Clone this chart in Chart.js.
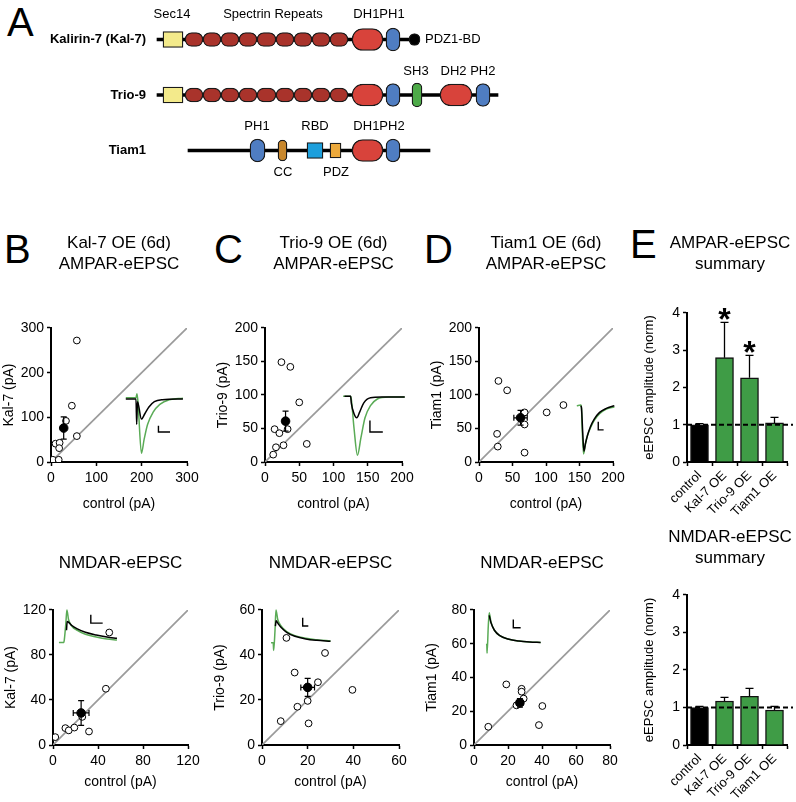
<!DOCTYPE html>
<html>
<head>
<meta charset="utf-8">
<script src="https://cdn.jsdelivr.net/npm/chart.js@4.4.1/dist/chart.umd.min.js"></script>
<style>
  body { margin: 0; background: #fff; }
  #fig { position: relative; width: 796px; height: 802px; overflow: hidden; font-family: "Liberation Sans", Arial, sans-serif; }
  #fig canvas { position: absolute; }
  .letter { position: absolute; font-size: 40px; line-height: 40px; color: #000; }
</style>
</head>
<body>
<div id="fig">
  <div class="letter" style="left:7px;top:2px">A</div>
  <div class="letter" style="left:4px;top:229px">B</div>
  <div class="letter" style="left:214px;top:229px">C</div>
  <div class="letter" style="left:424px;top:229px">D</div>
  <div class="letter" style="left:630px;top:224px">E</div>

  <canvas id="domains" width="560" height="190" style="left:0;top:0"></canvas>
  <canvas id="kalAmpa" width="208" height="292" style="left:1px;top:225px"></canvas>
  <canvas id="trioAmpa" width="209" height="292" style="left:215px;top:225px"></canvas>
  <canvas id="tiamAmpa" width="206" height="292" style="left:429px;top:225px"></canvas>
  <canvas id="ampaSum" width="186" height="295" style="left:637px;top:225px"></canvas>
  <canvas id="kalNmda" width="207" height="246" style="left:3px;top:545px"></canvas>
  <canvas id="trioNmda" width="209" height="246" style="left:212px;top:545px"></canvas>
  <canvas id="tiamNmda" width="208" height="246" style="left:424px;top:545px"></canvas>
  <canvas id="nmdaSum" width="186" height="281" style="left:637px;top:519px"></canvas>
</div>

<script>
// ---------- A: domain maps, [row, start, end] along the drawn protein ----------
const proteins = ['Kalirin-7 (Kal-7)', 'Trio-9', 'Tiam1'];
const backboneDom = [[0, 157, 415], [1, 157, 498], [2, 188, 430]];
const sec14Dom = [[0, 163, 183], [1, 163, 183]];
const spectrinEdges = [185, 203, 221, 239, 257, 276, 294, 312, 330, 348];
const dhDom = [[0, 352, 383], [1, 352, 383], [1, 440, 472], [2, 352, 383]];
const phDom = [[0, 386, 400], [1, 386, 400], [1, 476, 490], [2, 250, 265], [2, 386, 400]];
const sh3Dom = [[1, 412, 422]];
const ccDom = [[2, 278, 287]];
const rbdDom = [[2, 307, 323]];
const pdzDom = [[2, 330, 341]];
const pdzBindDom = [[0, 409, 420]];
const domainLabels = [
  ['Sec14', 0, 172, 'above'], ['Spectrin Repeats', 0, 273, 'above'], ['DH1PH1', 0, 379, 'above'],
  ['PDZ1-BD', 0, 425, 'right'],
  ['SH3', 1, 416, 'above'], ['DH2 PH2', 1, 468, 'above'],
  ['PH1', 2, 257, 'above'], ['RBD', 2, 315, 'above'], ['DH1PH2', 2, 379, 'above'],
  ['CC', 2, 283, 'below'], ['PDZ', 2, 336, 'below']
];

// ---------- B-D: per-cell amplitudes (pA), mean and sem ----------
const kalAmpaCtrl = [57, 46, 33, 57, 10, 19, 18, 4, 17];
const kalAmpaOE = [272, 126, 92, 58, 41, 43, 31, 5, 5];
const kalAmpaMean = [28, 76];
const kalAmpaSem = [3, 25];

const trioAmpaCtrl = [24, 37, 50, 14, 21, 33, 16, 27, 61, 12];
const trioAmpaOE = [149, 142, 89, 49, 43, 49, 22, 25, 27, 11];
const trioAmpaMean = [30, 61];
const trioAmpaSem = [4, 15];

const tiamAmpaCtrl = [29, 42, 101, 126, 68, 68, 27, 28, 68];
const tiamAmpaOE = [121, 107, 74, 85, 74, 56, 42, 23, 14];
const tiamAmpaMean = [62, 66];
const tiamAmpaSem = [10, 11];

const kalNmdaCtrl = [2, 11, 14, 19, 26, 32, 47, 50];
const kalNmdaOE = [7, 15, 13, 15.5, 25, 12, 50, 100];
const kalNmdaMean = [25, 28.5];
const kalNmdaSem = [7, 11];

const trioNmdaCtrl = [10.7, 27.6, 14.3, 24.5, 39.6, 15.5, 20, 8.2, 20.4];
const trioNmdaOE = [47.6, 40.9, 32.2, 27.9, 24.5, 17, 19.6, 10.6, 9.6];
const trioNmdaMean = [20, 25.6];
const trioNmdaSem = [3, 4];

const tiamNmdaCtrl = [8.4, 19, 28, 28, 29.2, 25, 40.2, 38.2];
const tiamNmdaOE = [10.8, 35.9, 33.3, 31.6, 27.5, 23.5, 23.1, 11.8];
const tiamNmdaMean = [27, 25];
const tiamNmdaSem = [2, 2.5];

// example traces ([% of plot width, % of plot height])
const kalAmpaBlack = [[55, 47], [62.5, 47], [63, 28], [63.6, 45], [66.5, 32], [69, 36], [72, 41], [76, 45], [82, 46.5], [97, 47]];
const kalAmpaGreen = [[55, 48], [62.5, 48], [63.2, 51], [64, 44], [66.5, 6.5], [68.5, 17], [71, 28], [75, 37], [80, 43], [87, 46.5], [97, 47.5]];
const kalAmpaBar = [[79, 27], [79, 22.4], [87.5, 22.4]];

const trioAmpaBlack = [[58, 49], [62.5, 49], [63, 44], [65, 36], [67, 33], [69, 37], [72, 44], [77, 48], [85, 48.5], [102, 48.5]];
const trioAmpaGreen = [[57, 49], [62.5, 49], [63, 47], [65, 25], [67.5, 5], [70, 18], [73, 33], [77, 42], [82, 47], [90, 48.5], [102, 48.5]];
const trioAmpaBar = [[76.6, 31], [76.6, 22.4], [86, 22.4]];

const tiamAmpaBlack = [[76, 42], [76.5, 40], [77.5, 20], [78.3, 8], [79.5, 14], [81, 20], [83, 26], [86, 32], [90, 37], [95, 40], [101, 42]];
const tiamAmpaGreen = [[73, 42], [76, 42.5], [76.5, 40], [77, 25], [78, 6], [79.5, 14], [81, 20], [83, 25], [86, 31], [90, 36], [95, 39.5], [101, 41]];
const tiamAmpaBar = [[89, 30], [89, 24], [93, 24]];

const kalNmdaBlack = [[10, 85], [10.5, 91.5], [12, 90.5], [14, 88.5], [18, 86], [24, 83.5], [32, 81.5], [40, 80], [47.4, 79]];
const kalNmdaGreen = [[4.4, 75.9], [8, 75.9], [8.5, 79], [9.5, 90], [10.3, 100], [11.5, 93], [14, 88], [18, 85], [24, 82], [32, 80], [40, 78.5], [47.4, 77.8]];
const kalNmdaBar = [[28, 96.5], [28, 90.3], [36.8, 90.3]];

const trioNmdaBlack = [[9.8, 88], [10.3, 92], [12, 89.5], [14, 87], [18, 83.5], [24, 80.5], [32, 78.5], [40, 77.5], [50, 76.8]];
const trioNmdaGreen = [[6.6, 75.8], [8.2, 75.8], [8.5, 70], [9.5, 85], [10.2, 100], [11.5, 93], [14, 88], [18, 84], [24, 81], [32, 79], [40, 78], [50, 77]];
const trioNmdaBar = [[29.7, 94.3], [29.7, 88.1], [33.8, 88.1]];

const tiamNmdaBlack = [[11.2, 96], [12.5, 90.5], [15, 85], [19, 81], [25, 78.5], [33, 77], [41, 76.3], [49, 76]];
const tiamNmdaGreen = [[8.8, 74.5], [9.4, 74.5], [9.6, 68], [10.5, 88], [11.2, 98], [12.5, 91], [15, 85], [19, 81], [25, 78.5], [33, 77], [41, 76.3], [49, 76]];
const tiamNmdaBar = [[28.9, 92.9], [28.9, 86.8], [34.3, 86.8]];

// ---------- E: normalised summary ----------
const summaryGroups = ['control', 'Kal-7 OE', 'Trio-9 OE', 'Tiam1 OE'];
const ampaNorm = [1.0, 2.8, 2.26, 1.05];
const ampaNormErr = [0.03, 0.95, 0.6, 0.15];
const ampaStars = ['', '*', '*', ''];
const nmdaNorm = [1.0, 1.17, 1.3, 0.93];
const nmdaNormErr = [0.03, 0.1, 0.21, 0.1];
const nmdaStars = ['', '', '', ''];

Chart.defaults.font.family = '"Liberation Sans", Arial, Helvetica, sans-serif';
Chart.defaults.font.size = 14;
Chart.defaults.color = '#000';
Chart.defaults.animation = false;
Chart.defaults.plugins.legend.display = false;
Chart.defaults.plugins.tooltip.enabled = false;

const FONT = '"Liberation Sans", Arial, Helvetica, sans-serif';

// ---- panel A ----
function domBars(list) {
  return list.map(([r, s, e]) => ({ y: proteins[r], x: [s, e] }));
}
const spectrinDom = [];
[0, 1].forEach(r => {
  for (let i = 0; i < spectrinEdges.length - 1; i++) spectrinDom.push([r, spectrinEdges[i], spectrinEdges[i + 1]]);
});

const domainLabelPlugin = {
  id: 'domainLabels',
  afterDatasetsDraw(chart) {
    const { ctx, scales: { x, y } } = chart;
    ctx.save();
    ctx.font = '13px ' + FONT;
    ctx.fillStyle = '#000';
    ctx.textBaseline = 'middle';
    domainLabels.forEach(([text, row, pos, side]) => {
      const px = x.getPixelForValue(pos);
      const py = y.getPixelForValue(row);
      if (side === 'right') {
        ctx.textAlign = 'left';
        ctx.fillText(text, px, py);
      } else {
        ctx.textAlign = 'center';
        ctx.fillText(text, px, side === 'above' ? py - (row === 0 ? 25 : 24) : py + 22);
      }
    });
    ctx.restore();
  }
};

const domCommon = { borderColor: '#1a1a1a', borderWidth: 1.3, borderSkipped: false, grouped: false };

new Chart(document.getElementById('domains'), {
  type: 'bar',
  data: {
    labels: proteins,
    datasets: [
      { ...domCommon, label: 'Sec14', data: domBars(sec14Dom), backgroundColor: '#f3ea8b', barThickness: 16, borderRadius: 0 },
      { ...domCommon, label: 'Spectrin', data: domBars(spectrinDom), backgroundColor: '#a9332b', barThickness: 14, borderRadius: 8 },
      { ...domCommon, label: 'DH', data: domBars(dhDom), backgroundColor: '#d8433b', barThickness: 22, borderRadius: 11 },
      { ...domCommon, label: 'PH', data: domBars(phDom), backgroundColor: '#4f7dc2', barThickness: 23, borderRadius: 8 },
      { ...domCommon, label: 'SH3', data: domBars(sh3Dom), backgroundColor: '#4daa48', barThickness: 24, borderRadius: 6 },
      { ...domCommon, label: 'CC', data: domBars(ccDom), backgroundColor: '#c8872c', barThickness: 21, borderRadius: 5 },
      { ...domCommon, label: 'RBD', data: domBars(rbdDom), backgroundColor: '#1d9fdc', barThickness: 16, borderRadius: 0 },
      { ...domCommon, label: 'PDZ', data: domBars(pdzDom), backgroundColor: '#eca93c', barThickness: 15, borderRadius: 0 },
      { ...domCommon, label: 'PDZ1-BD', data: domBars(pdzBindDom), backgroundColor: '#000', barThickness: 12, borderRadius: 6 },
      { ...domCommon, label: 'backbone', data: domBars(backboneDom), backgroundColor: '#000', barThickness: 3, borderWidth: 0 }
    ]
  },
  options: {
    responsive: false,
    indexAxis: 'y',
    layout: { padding: { top: 10 } },
    scales: {
      x: { type: 'linear', display: false, min: 150, max: 560 },
      y: {
        type: 'category',
        ticks: { font: { size: 13, weight: 'bold' }, color: '#000', padding: 4, autoSkip: false },
        grid: { display: false, drawTicks: false },
        border: { display: false },
        afterFit: s => { s.width = 150; }
      }
    }
  },
  plugins: [domainLabelPlugin]
});

// ---- B-D scatter panels ----
const errorBarsPlugin = {
  id: 'errorBars',
  afterDatasetsDraw(chart, args, opts) {
    const { ctx, scales: { x, y } } = chart;
    ctx.save();
    ctx.strokeStyle = '#000';
    ctx.lineWidth = 1.2;
    (opts.items || []).forEach(it => {
      const px = x.getPixelForValue(it.x), py = y.getPixelForValue(it.y);
      const l = x.getPixelForValue(it.x - it.xErr), r = x.getPixelForValue(it.x + it.xErr);
      const t = y.getPixelForValue(it.y + it.yErr), b = y.getPixelForValue(it.y - it.yErr);
      ctx.beginPath();
      ctx.moveTo(l, py); ctx.lineTo(r, py);
      ctx.moveTo(l, py - 3); ctx.lineTo(l, py + 3);
      ctx.moveTo(r, py - 3); ctx.lineTo(r, py + 3);
      ctx.moveTo(px, t); ctx.lineTo(px, b);
      ctx.moveTo(px - 3, t); ctx.lineTo(px + 3, t);
      ctx.moveTo(px - 3, b); ctx.lineTo(px + 3, b);
      ctx.stroke();
    });
    ctx.restore();
  }
};

function toPts(xs, ys) { return xs.map((v, i) => ({ x: v, y: ys[i] })); }
function pairPts(arr) { return arr.map(([x, y]) => ({ x, y })); }

function valueAxis(max, step, title, horizontal, fit, titlePad) {
  return {
    type: 'linear', min: 0, max: max,
    ticks: { stepSize: step, font: { size: 14 }, color: '#000', padding: horizontal ? 4 : 3 },
    grid: { drawOnChartArea: false, tickLength: 4, tickColor: '#000', tickWidth: 1.5 },
    border: { color: '#000', width: 2 },
    title: { display: true, text: title, font: { size: 14 }, color: '#000', padding: { top: 0, bottom: titlePad } },
    afterFit: s => { if (horizontal) s.height = fit; else s.width = fit; }
  };
}

function scatterPanel(id, p) {
  const trace = (data, color, order) => ({
    type: 'line', data: pairPts(data), xAxisID: 'ix', yAxisID: 'iy',
    borderColor: color, borderWidth: 1.5, pointRadius: 0, cubicInterpolationMode: 'monotone',
    clip: false, order: order
  });
  new Chart(document.getElementById(id), {
    type: 'scatter',
    data: {
      datasets: [
        { label: 'mean', data: [{ x: p.mean[0], y: p.mean[1] }], pointRadius: 4.3, backgroundColor: '#000', borderColor: '#000', order: 0 },
        { label: 'cells', data: toPts(p.ctrl, p.oe), pointRadius: 3.4, borderWidth: 1, backgroundColor: '#fff', borderColor: '#000', order: 1 },
        { ...trace(p.bar, '#000', 2), tension: 0, borderWidth: 1.4, cubicInterpolationMode: 'default' },
        trace(p.black, '#000', 3),
        trace(p.green, '#5aab56', 4),
        { type: 'line', label: 'unity', data: [{ x: 0, y: 0 }, { x: p.max, y: p.max }], borderColor: '#9b9b9b', borderWidth: 1.7, pointRadius: 0, order: 6 }
      ]
    },
    options: {
      responsive: false,
      layout: { padding: { right: 22 } },
      plugins: {
        title: {
          display: true, text: p.title, fullSize: false, color: '#000',
          font: { size: 17, weight: 'normal', lineHeight: 1.235 },
          padding: { top: 8, bottom: p.titleGap }
        },
        errorBars: { items: [{ x: p.mean[0], y: p.mean[1], xErr: p.sem[0], yErr: p.sem[1] }] }
      },
      scales: {
        x: valueAxis(p.max, p.step, 'control (pA)', true, p.xFit, p.xTitlePad),
        y: valueAxis(p.max, p.step, p.ylabel, false, 50, 0),
        ix: { type: 'linear', display: false, min: 0, max: 100 },
        iy: { type: 'linear', display: false, min: 0, max: 100 }
      }
    },
    plugins: [errorBarsPlugin]
  });
}

const ampaTitleGap = 53, nmdaTitleGap = 36;

scatterPanel('kalAmpa', { ctrl: kalAmpaCtrl, oe: kalAmpaOE, mean: kalAmpaMean, sem: kalAmpaSem, max: 300, step: 100,
  ylabel: 'Kal-7 (pA)', title: ['Kal-7 OE (6d)', 'AMPAR-eEPSC'], titleGap: ampaTitleGap, xFit: 55, xTitlePad: 4,
  black: kalAmpaBlack, green: kalAmpaGreen, bar: kalAmpaBar });
scatterPanel('trioAmpa', { ctrl: trioAmpaCtrl, oe: trioAmpaOE, mean: trioAmpaMean, sem: trioAmpaSem, max: 200, step: 50,
  ylabel: 'Trio-9 (pA)', title: ['Trio-9 OE (6d)', 'AMPAR-eEPSC'], titleGap: ampaTitleGap, xFit: 55, xTitlePad: 4,
  black: trioAmpaBlack, green: trioAmpaGreen, bar: trioAmpaBar });
scatterPanel('tiamAmpa', { ctrl: tiamAmpaCtrl, oe: tiamAmpaOE, mean: tiamAmpaMean, sem: tiamAmpaSem, max: 200, step: 50,
  ylabel: 'Tiam1 (pA)', title: ['Tiam1 OE (6d)', 'AMPAR-eEPSC'], titleGap: ampaTitleGap, xFit: 55, xTitlePad: 4,
  black: tiamAmpaBlack, green: tiamAmpaGreen, bar: tiamAmpaBar });
scatterPanel('kalNmda', { ctrl: kalNmdaCtrl, oe: kalNmdaOE, mean: kalNmdaMean, sem: kalNmdaSem, max: 120, step: 40,
  ylabel: 'Kal-7 (pA)', title: 'NMDAR-eEPSC', titleGap: nmdaTitleGap, xFit: 46, xTitlePad: 0,
  black: kalNmdaBlack, green: kalNmdaGreen, bar: kalNmdaBar });
scatterPanel('trioNmda', { ctrl: trioNmdaCtrl, oe: trioNmdaOE, mean: trioNmdaMean, sem: trioNmdaSem, max: 60, step: 20,
  ylabel: 'Trio-9 (pA)', title: 'NMDAR-eEPSC', titleGap: nmdaTitleGap, xFit: 46, xTitlePad: 0,
  black: trioNmdaBlack, green: trioNmdaGreen, bar: trioNmdaBar });
scatterPanel('tiamNmda', { ctrl: tiamNmdaCtrl, oe: tiamNmdaOE, mean: tiamNmdaMean, sem: tiamNmdaSem, max: 80, step: 20,
  ylabel: 'Tiam1 (pA)', title: 'NMDAR-eEPSC', titleGap: nmdaTitleGap, xFit: 46, xTitlePad: 0,
  black: tiamNmdaBlack, green: tiamNmdaGreen, bar: tiamNmdaBar });

// ---- E summary bars ----
const summaryPlugin = {
  id: 'summaryMarks',
  afterDatasetsDraw(chart, args, opts) {
    const { ctx, chartArea, scales: { x, y } } = chart;
    const means = chart.data.datasets[0].data;
    ctx.save();
    ctx.strokeStyle = '#000';
    ctx.lineWidth = 1.3;
    means.forEach((m, i) => {
      const px = x.getPixelForValue(i);
      const top = y.getPixelForValue(m + opts.err[i]);
      ctx.beginPath();
      ctx.moveTo(px, y.getPixelForValue(m)); ctx.lineTo(px, top);
      ctx.moveTo(px - 4, top); ctx.lineTo(px + 4, top);
      ctx.stroke();
      if (opts.stars[i]) {
        ctx.font = 'bold 32px ' + FONT;
        ctx.fillStyle = '#000';
        ctx.textAlign = 'center';
        ctx.textBaseline = 'alphabetic';
        ctx.fillText(opts.stars[i], px, top + 8);
      }
    });
    const ry = y.getPixelForValue(opts.ref);
    ctx.setLineDash([5, 3]);
    ctx.lineWidth = 2;
    ctx.beginPath();
    ctx.moveTo(chartArea.left, ry); ctx.lineTo(chartArea.right + 6, ry);
    ctx.stroke();
    ctx.restore();
  }
};

function summaryPanel(id, p) {
  new Chart(document.getElementById(id), {
    type: 'bar',
    data: {
      labels: summaryGroups,
      datasets: [{
        data: p.means,
        backgroundColor: ['#000', '#3f9c46', '#3f9c46', '#3f9c46'],
        borderColor: '#111', borderWidth: 1.4, barThickness: 18
      }]
    },
    options: {
      responsive: false,
      plugins: {
        title: {
          display: true, text: p.title, color: '#000',
          font: { size: 17, weight: 'normal', lineHeight: 1.235 },
          padding: { top: 8, bottom: p.titleGap }
        },
        summaryMarks: { err: p.err, stars: p.stars, ref: 1 }
      },
      scales: {
        x: {
          ticks: { font: { size: 13 }, color: '#000', minRotation: 45, maxRotation: 45, autoSkip: false, padding: 2 },
          grid: { drawOnChartArea: false, tickLength: 4, tickColor: '#000', tickWidth: 1.5, offset: true },
          border: { color: '#000', width: 2 },
          afterFit: s => { s.height = p.xFit; }
        },
        y: {
          min: 0, max: 4,
          ticks: { stepSize: 1, font: { size: 14 }, color: '#000', padding: 3 },
          grid: { drawOnChartArea: false, tickLength: 4, tickColor: '#000', tickWidth: 1.5 },
          border: { color: '#000', width: 2 },
          title: { display: true, text: 'eEPSC amplitude (norm)', font: { size: 13 }, color: '#000', padding: { top: 5, bottom: 0 } },
          afterFit: s => { s.width = 50; }
        },
        // empty right-hand spacer so the full-width title centres where the original does
        pad: {
          type: 'linear', position: 'right', display: true,
          ticks: { display: false }, grid: { display: false }, border: { display: false },
          afterFit: s => { s.width = 36; }
        }
      }
    },
    plugins: [summaryPlugin]
  });
}

summaryPanel('ampaSum', { means: ampaNorm, err: ampaNormErr, stars: ampaStars, title: ['AMPAR-eEPSC', 'summary'], titleGap: 38, xFit: 58 });
summaryPanel('nmdaSum', { means: nmdaNorm, err: nmdaNormErr, stars: nmdaStars, title: ['NMDAR-eEPSC', 'summary'], titleGap: 26, xFit: 55 });
</script>
</body>
</html>
